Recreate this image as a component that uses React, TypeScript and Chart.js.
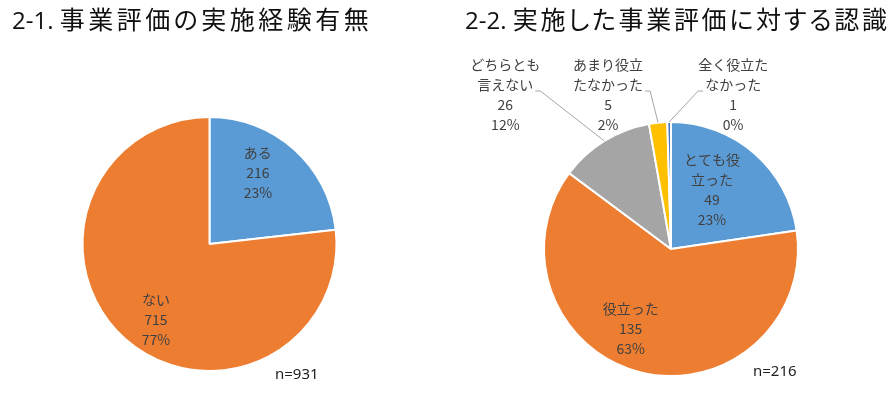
import React, { useEffect, useRef } from 'react';
import { Chart, registerables } from 'chart.js';
Chart.register(...registerables);

// ---- data ----
const title1Num = '2-1.';
const title1Text = '事業評価の実施経験有無';
const title2Num = '2-2.';
const title2Text = '実施した事業評価に対する認識';
const categories1 = ['ある', 'ない'];
const values1 = [216, 715];
const categories2 = ['とても役\n立った', '役立った', 'どちらとも\n言えない', 'あまり役立\nたなかった', '全く役立た\nなかった'];
const values2 = [49, 135, 26, 5, 1];
const colors1 = ['#5B9BD5', '#ED7D31'];
const colors2 = ['#5B9BD5', '#ED7D31', '#A5A5A5', '#FFC000', '#4472C4'];

const LABEL_FONT = '14px "Noto Sans CJK JP", "Noto Sans", sans-serif';
const LH = 20;

type InsideLayout = { kind: 'in'; f: number; da: number };
type OutsideLayout = { kind: 'out'; dx: number; top: number };
type Layout = InsideLayout | OutsideLayout;

const layout1: Layout[] = [
  { kind: 'in', f: 0.68, da: -7.7 },
  { kind: 'in', f: 0.73, da: -6.5 },
];
const layout2: Layout[] = [
  { kind: 'in', f: 0.565, da: -6 },
  { kind: 'in', f: 0.7, da: 12.8 },
  { kind: 'out', dx: -99, top: 57 },
  { kind: 'out', dx: -50, top: 57 },
  { kind: 'out', dx: 64, top: 57 },
];

const sliceLabels = {
  id: 'sliceLabels',
  afterDatasetsDraw(chart: any, _args: any, opts: any) {
    const { ctx } = chart;
    const meta = chart.getDatasetMeta(0);
    const data = chart.data.datasets[0].data as number[];
    const total = data.reduce((a, b) => a + b, 0);
    const names = chart.data.labels as string[];
    const lay: Layout[] = opts.layout || [];
    ctx.save();
    ctx.font = LABEL_FONT;
    ctx.fillStyle = '#404040';
    ctx.textAlign = 'center';
    ctx.textBaseline = 'middle';
    meta.data.forEach((arc: any, i: number) => {
      const { x, y, startAngle, endAngle, outerRadius } = arc.getProps(
        ['x', 'y', 'startAngle', 'endAngle', 'outerRadius'],
        true
      );
      const mid = (startAngle + endAngle) / 2;
      const nameLines = names[i].split('\n');
      const lines = [...nameLines, String(data[i]), Math.round((data[i] / total) * 100) + '%'];
      const L = lay[i];
      if (!L) return;
      if (L.kind === 'in') {
        const a = mid + (L.da * Math.PI) / 180;
        const cx = x + Math.cos(a) * outerRadius * L.f;
        const cy = y + Math.sin(a) * outerRadius * L.f;
        const y0 = cy - ((lines.length - 1) * LH) / 2;
        lines.forEach((t, k) => ctx.fillText(t, cx, y0 + k * LH));
      } else {
        const ex = x + Math.cos(mid) * outerRadius;
        const ey = y + Math.sin(mid) * outerRadius;
        const lx = ex + L.dx;
        const y0 = y - outerRadius - L.top;
        lines.forEach((t, k) => ctx.fillText(t, lx, y0 + k * LH));
        const lastName = nameLines[nameLines.length - 1];
        const w = ctx.measureText(lastName).width;
        const ay = y0 + (nameLines.length - 1) * LH + 6;
        const side = L.dx < 0 ? 1 : -1;
        const ax = lx + side * (w / 2 + 2);
        ctx.save();
        ctx.strokeStyle = '#A6A6A6';
        ctx.lineWidth = 1;
        ctx.beginPath();
        ctx.moveTo(ax, ay);
        ctx.lineTo(ax + side * 5, ay);
        ctx.lineTo(ex, ey);
        ctx.stroke();
        ctx.restore();
      }
    });
    ctx.restore();
  },
};

type PieProps = {
  labels: string[];
  values: number[];
  colors: string[];
  layout: Layout[];
  padding: { left: number; right: number; top: number; bottom: number };
  left: number;
  width: number;
  height: number;
};

function Pie({ labels, values, colors, layout, padding, left, width, height }: PieProps) {
  const ref = useRef<HTMLCanvasElement | null>(null);
  useEffect(() => {
    if (!ref.current) return;
    const chart = new Chart(ref.current, {
      type: 'pie',
      data: {
        labels,
        datasets: [
          {
            data: values,
            backgroundColor: colors,
            borderColor: '#ffffff',
            borderWidth: 2,
          },
        ],
      },
      options: {
        responsive: false,
        maintainAspectRatio: false,
        animation: false,
        layout: { padding },
        plugins: {
          legend: { display: false },
          tooltip: { enabled: false },
          sliceLabels: { layout },
        } as any,
      },
      plugins: [sliceLabels],
    });
    return () => chart.destroy();
  }, []);
  return (
    <canvas
      ref={ref}
      width={width}
      height={height}
      style={{ position: 'absolute', left, top: 0, width, height }}
    />
  );
}

const titleStyle: React.CSSProperties = {
  position: 'absolute',
  top: 3,
  fontFamily: '"Noto Sans CJK JP", sans-serif',
  fontSize: 25,
  lineHeight: '30px',
  color: '#111',
  whiteSpace: 'nowrap',
  fontFeatureSettings: '"palt"',
};

const nStyle: React.CSSProperties = {
  position: 'absolute',
  fontFamily: '"Noto Sans", sans-serif',
  fontSize: 15,
  lineHeight: '18px',
  color: '#222',
};

export default function App() {
  const sum1 = values1.reduce((a, b) => a + b, 0);
  const sum2 = values2.reduce((a, b) => a + b, 0);
  return (
    <div style={{ position: 'fixed', left: 0, top: 0, width: 894, height: 399, background: '#fff', overflow: 'hidden' }}>
      <Pie
        labels={categories1}
        values={values1}
        colors={colors1}
        layout={layout1}
        padding={{ left: 81, right: 109, top: 116, bottom: 27 }}
        left={0}
        width={447}
        height={399}
      />
      <Pie
        labels={categories2}
        values={values2}
        colors={colors2}
        layout={layout2}
        padding={{ left: 96, right: 95, top: 121, bottom: 22 }}
        left={447}
        width={447}
        height={399}
      />
      <div style={{ ...titleStyle, left: 12 }}>
        <span style={{ fontFamily: '"Open Sans", "Noto Sans", sans-serif', fontSize: 24 }}>{title1Num} </span>
        <span style={{ letterSpacing: 3.5 }}>{title1Text}</span>
      </div>
      <div style={{ ...titleStyle, left: 465 }}>
        <span style={{ fontFamily: '"Open Sans", "Noto Sans", sans-serif', fontSize: 24 }}>{title2Num} </span>
        <span style={{ letterSpacing: 2.7 }}>{title2Text}</span>
      </div>
      <div style={{ ...nStyle, left: 275, top: 364 }}>{`n=${sum1}`}</div>
      <div style={{ ...nStyle, left: 753, top: 361 }}>{`n=${sum2}`}</div>
    </div>
  );
}
